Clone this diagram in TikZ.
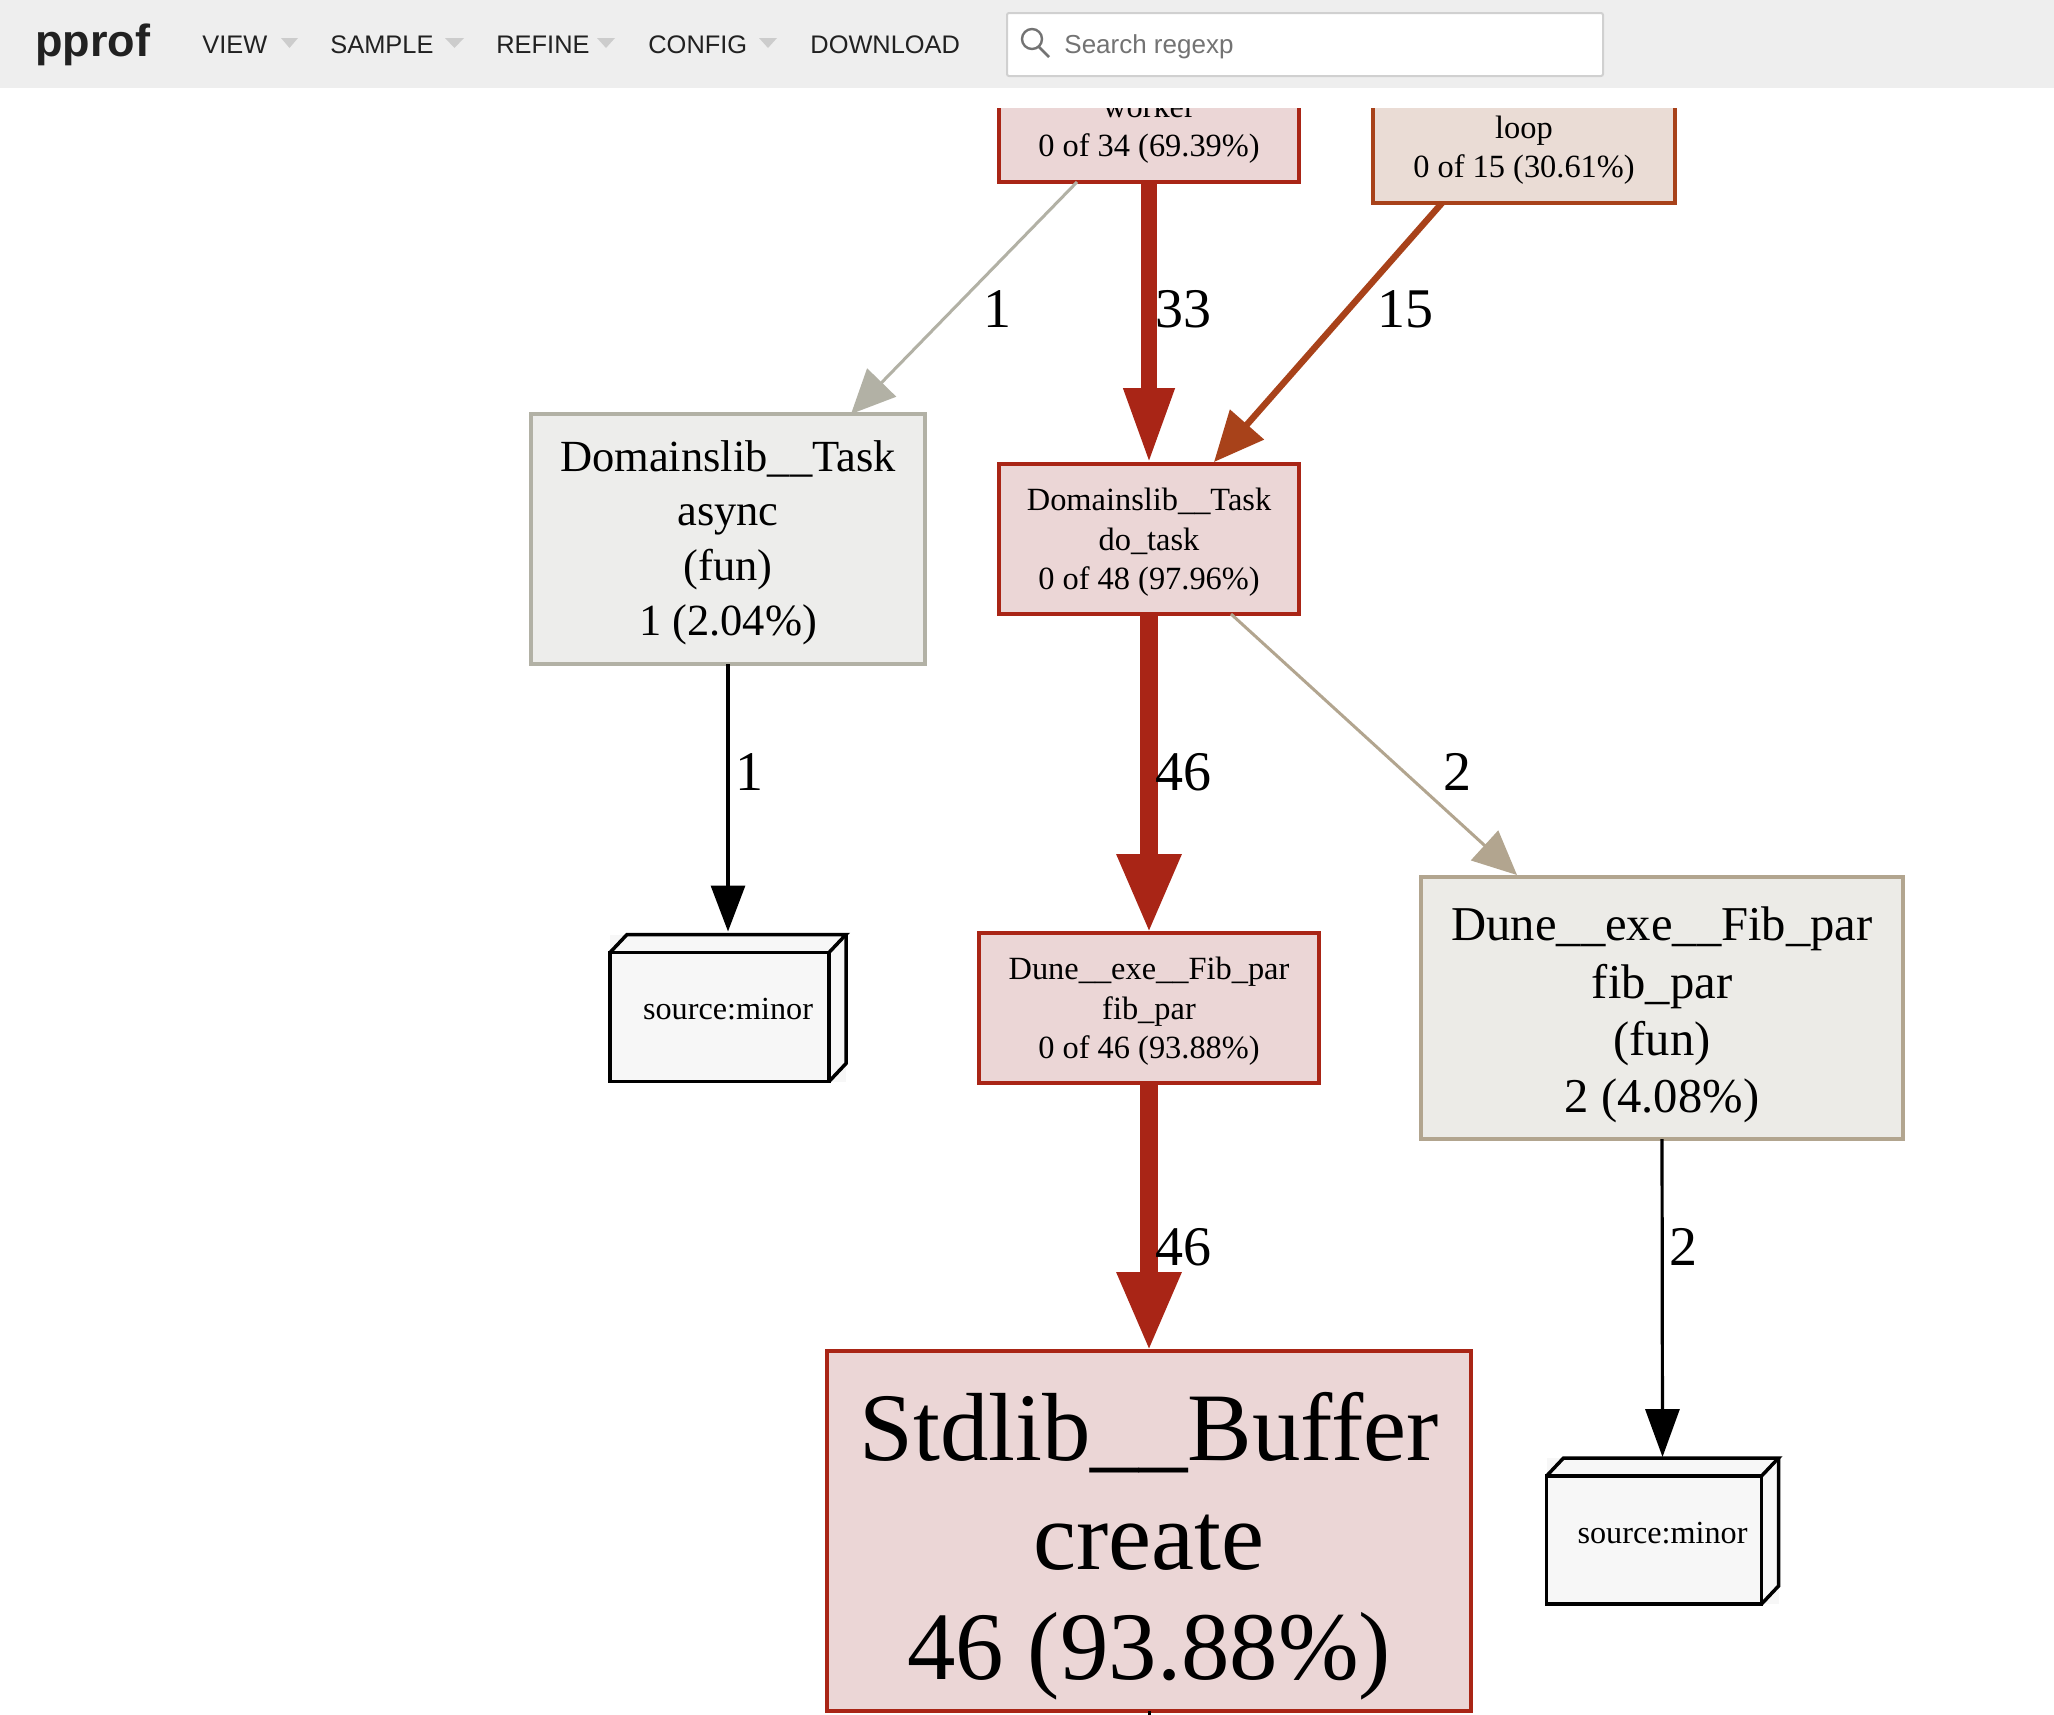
\documentclass[tikz,border=0pt]{standalone}
\usepackage{fontspec}
\setmainfont{Liberation Serif}
\newfontfamily\uifont{Liberation Sans}
\usetikzlibrary{arrows.meta,calc}
\definecolor{hdr}{HTML}{EEEEEE}
\definecolor{hdrline}{HTML}{D0D0D0}
\definecolor{tri}{HTML}{CCCCCC}
\definecolor{ink}{HTML}{212121}
\definecolor{hot}{HTML}{A92516}
\definecolor{hotfill}{HTML}{EBD6D6}
\definecolor{warm}{HTML}{A8421A}
\definecolor{warmfill}{HTML}{EADCD5}
\definecolor{coolA}{HTML}{B2B1A5}
\definecolor{coolAfill}{HTML}{EDEDEB}
\definecolor{coolB}{HTML}{B2A58F}
\definecolor{coolBfill}{HTML}{ECEBE7}
\tikzset{
  x=0.5pt,y=-0.5pt,
  boxbase/.style={rectangle,draw,outer sep=0pt,inner sep=0pt,align=center,line width=1.75pt},
  hotbox/.style={boxbase,draw=hot,fill=hotfill},
  warmbox/.style={boxbase,draw=warm,fill=warmfill},
  coolAbox/.style={boxbase,draw=coolA,fill=coolAfill},
  coolBbox/.style={boxbase,draw=coolB,fill=coolBfill},
  txtS/.style={font=\fontsize{16.2}{19.8}\selectfont},
  txtM/.style={font=\fontsize{22.25}{27.4}\selectfont},
  txtL/.style={font=\fontsize{24.3}{28.7}\selectfont},
  txtXL/.style={font=\fontsize{48.4}{54.7}\selectfont},
  srcbox/.style={rectangle,outer sep=0pt,inner sep=0pt,font=\fontsize{16.1}{20}\selectfont},
  edgelabel/.style={inner sep=0pt,font=\fontsize{28}{32}\selectfont},
  menuitem/.style={inner sep=0pt,anchor=base west,text=ink,font=\uifont\fontsize{12.7}{15}\selectfont},
  menutri/.style={fill=tri,draw=none},
  thinedge/.style={line width=1.5pt,-{Triangle[length=22pt,width=20pt]}},
  fatedge/.style={line width=9pt,draw=hot,-{Triangle[length=39.5pt,width=30pt,fill=hot]}},
  fatedgeB/.style={line width=8pt,draw=hot,-{Triangle[length=38pt,width=23.5pt,fill=hot]}},
  srcline/.style={draw=black,line width=1.75pt,line join=miter}
}
\newcommand{\srcfaces}[1]{%
  \fill[black!3] (#1.south west) rectangle (#1.north east);
  \draw[srcline] ([yshift=-9pt]#1.north west) rectangle ([xshift=-8.5pt]#1.south east);
  \draw[srcline] ([yshift=-9pt]#1.north west) -- ([xshift=8.5pt]#1.north west) -- (#1.north east) -- ([xshift=-8.5pt,yshift=-9pt]#1.north east);
  \draw[srcline] (#1.north east) -- ([yshift=9pt]#1.south east) -- ([xshift=-8.5pt]#1.south east);
}
\newcommand{\upstrut}[1]{\rule{0pt}{#1}}
\newcommand{\dnstrut}[1]{\rule[-#1]{0pt}{1pt}}
\begin{document}
\begin{tikzpicture}
\useasboundingbox (0,0) rectangle (2054,1714);
\fill[white] (0,0) rectangle (2054,1714);
\begin{scope}
\clip (0,108) rectangle (2054,1714);
\node[hotbox,txtS,minimum width=150pt,minimum height=50pt] (worker) at (1149,132) {worker\\0 of 34 (69.39\%)\dnstrut{6.1pt}};
\node[warmbox,txtS,minimum width=151pt,minimum height=50pt] (loop) at (1524,153) {loop\\0 of 15 (30.61\%)\dnstrut{6.1pt}};
\node[coolAbox,txtM,minimum width=197pt,minimum height=125pt] (async) at (728,539) {\upstrut{19pt}Domainslib\_\_Task\\async\\(fun)\\1 (2.04\%)};
\node[hotbox,txtS,minimum width=150pt,minimum height=75pt] (dotask) at (1149,539) {\upstrut{14.5pt}Domainslib\_\_Task\\do\_task\\0 of 48 (97.96\%)};
\node[hotbox,txtS,minimum width=170pt,minimum height=75pt] (fibsmall) at (1149,1008) {\upstrut{14.5pt}Dune\_\_exe\_\_Fib\_par\\fib\_par\\0 of 46 (93.88\%)};
\node[coolBbox,txtL,minimum width=241pt,minimum height=131pt] (fibfun) at (1662,1008) {\upstrut{24pt}Dune\_\_exe\_\_Fib\_par\\fib\_par\\(fun)\\2 (4.08\%)};
\node[hotbox,txtXL,minimum width=322pt,minimum height=180pt] (create) at (1149,1531) {\upstrut{49pt}Stdlib\_\_Buffer\\create\\46 (93.88\%)};
\node[srcbox,minimum width=118pt,minimum height=73.5pt] (srcA) at (728,1008) {};
\node[srcbox,minimum width=116pt,minimum height=73pt] (srcB) at (1662.5,1531) {};
\srcfaces{srcA}
\srcfaces{srcB}
\node[srcbox] (srcAtxt) at ([yshift=-.5pt]srcA.center) {source:minor};
\node[srcbox] (srcBtxt) at ([yshift=-1pt]srcB.center) {source:minor};
% edges
\draw[thinedge,draw=coolA,fill=coolA] ([xshift=-36pt]worker.south) -- ([xshift=61.5pt]async.north);
\draw[fatedgeB] (worker.south) -- (dotask.north);
\draw[draw=warm,line width=3.2pt,-{Triangle[length=25pt,width=22pt,fill=warm]}] ([xshift=-41pt]loop.south) -- ([xshift=32.5pt,yshift=1pt]dotask.north);
\draw[fatedge] (dotask.south) -- (fibsmall.north);
\draw[fatedge] (fibsmall.south) -- (create.north);
\draw[thinedge,draw=coolB,fill=coolB] ([xshift=41pt]dotask.south) -- ([xshift=-72.5pt,yshift=1pt]fibfun.north);
\draw[line width=1.6pt,-{Triangle[length=23pt,width=17pt,fill=black]}] (async.south) -- ([yshift=1.5pt]srcA.north);
\draw[line width=1.6pt,-{Triangle[length=24pt,width=17pt,fill=black]}] (fibfun.south) -- ([yshift=.5pt]srcB.north);
\coordinate (tail) at (1149,1720);
\draw[line width=1.5pt] (create.south) -- (tail);
% labels
\node[edgelabel] (l1) at (997,309) {1};
\node[edgelabel] (l2) at (1183,309) {33};
\node[edgelabel] (l3) at (1405,309) {15};
\node[edgelabel] (l4) at (749,772) {1};
\node[edgelabel] (l5) at (1183,772) {46};
\node[edgelabel] (l6) at (1457,772) {2};
\node[edgelabel] (l7) at (1183,1247) {46};
\node[edgelabel] (l8) at (1683,1247) {2};
\end{scope}
% header
\fill[hdr] (0,0) rectangle (2054,88);
\node[inner sep=0pt,anchor=base west,text=ink,font=\uifont\bfseries\fontsize{22.5}{26}\selectfont] (logo) at (35,56) {pprof};
\node[menuitem] (m1) at (202,53) {VIEW};
\node[menuitem] (m2) at (330,53) {SAMPLE};
\node[menuitem] (m3) at (496,53) {REFINE};
\node[menuitem] (m4) at (648,53) {CONFIG};
\node[menuitem] (m5) at (810,53) {DOWNLOAD};
\fill[menutri] (281,38) -- (298,38) -- (289.5,48) -- cycle;
\fill[menutri] (445,38) -- (464,38) -- (454.5,48) -- cycle;
\fill[menutri] (597,38) -- (615,38) -- (606,48) -- cycle;
\fill[menutri] (759,38) -- (777,38) -- (768,48) -- cycle;
\node[rectangle,draw=hdrline,fill=white,line width=1pt,rounded corners=1pt,minimum width=298pt,minimum height=31.5pt,outer sep=0pt] (search) at (1305,44.5) {};
\draw[draw=black!55,line width=1.2pt] (1032,39) circle [radius=10];
\draw[draw=black!55,line width=1.4pt] (1039,47) -- (1049,57);
\node[inner sep=0pt,anchor=base west,text=black!55,font=\uifont\fontsize{13}{15}\selectfont] (searchtxt) at (1064,53) {Search regexp};
\end{tikzpicture}
\end{document}
